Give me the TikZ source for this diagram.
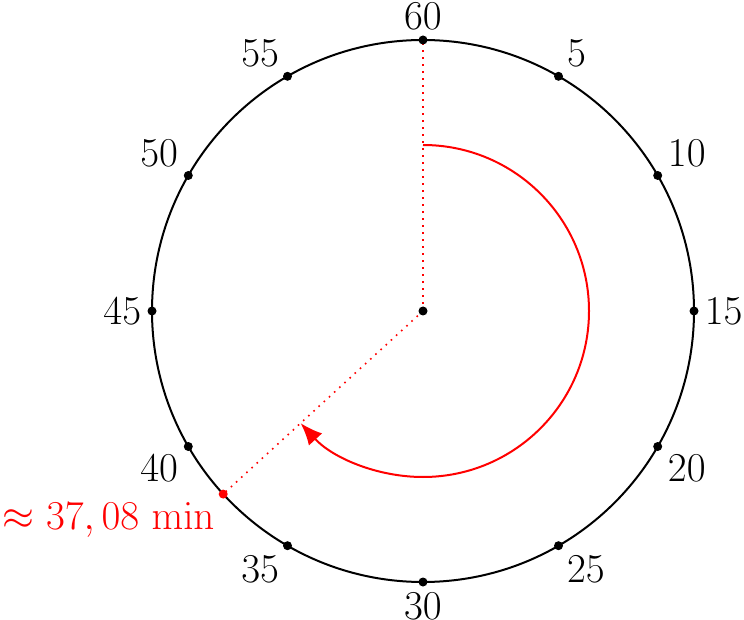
\RequirePackage{fix-cm}
\documentclass[tikz,border=0pt]{standalone}
\usetikzlibrary{arrows.meta}
\begin{document}
\begin{tikzpicture}[x=1pt,y=1pt,
  dot/.style={circle,fill=black,inner sep=0pt,minimum size=9pt},
  reddot/.style={circle,fill=red,inner sep=0pt,minimum size=9pt},
  reddots/.style={red,line width=1.6pt,dash pattern=on 1.6pt off 5.4pt},
  every label/.style={font=\fontsize{41}{48}\selectfont,inner sep=6pt},
  label distance=0pt]
\useasboundingbox (0,0) rectangle (744,619);
\coordinate (c) at (423,308);
\draw[line width=2pt] (c) circle[radius=271];
\draw[reddots] (c) -- ([shift={(90:271)}]c);
\draw[reddots] (c) -- ([shift={(222.5:271)}]c);
\foreach \m in {5,10,...,60} {
  \node[dot,label={{90-6*\m}:$\m$}] (m\m) at ([shift={({90-6*\m}:271)}]c) {};
}
\node[reddot,label={[text=red,inner sep=5pt]222.5:$\approx 37,08\ \mathrm{min}$}] (t) at ([shift={(222.5:271)}]c) {};
\node[dot] (cc) at (c) {};
\draw[red,line width=2pt,-{Latex[length=22pt,width=18pt]}] ([shift={(90:166)}]c) arc[start angle=90,end angle=-137.5,radius=166];
\end{tikzpicture}
\end{document}
